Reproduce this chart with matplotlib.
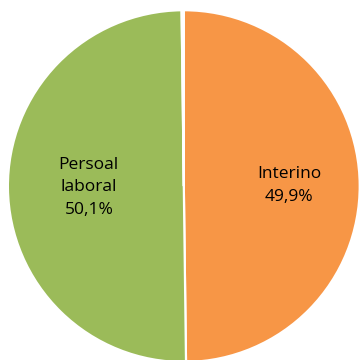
import numpy as np
import matplotlib
matplotlib.use("Agg")
import matplotlib.pyplot as plt

labels = ["Interino", "Persoal\nlaboral", "Outro"]
values = [49.9, 50.1, 0.2]
shown = [True, True, False]
colors = ["#F79646", "#9BBB59", "#4BACC6"]
label_r = [0.60, 0.54, 0.5]

fig = plt.figure(figsize=(3.59, 3.60), dpi=100)
ax = fig.add_axes([0.022, -0.006, 0.98, 0.978])
wedges, _ = ax.pie(values, colors=colors, startangle=90, counterclock=False,
                   wedgeprops=dict(edgecolor="white", linewidth=1.6))
ax.set_xlim(-1, 1); ax.set_ylim(-1, 1)
ax.set_aspect("equal")

for w, lab, v, s, r in zip(wedges, labels, values, shown, label_r):
    if not s:
        continue
    ang = np.deg2rad((w.theta1 + w.theta2) / 2)
    txt = f"{lab}\n{v:.1f}%".replace(".", ",")
    ax.text(r * np.cos(ang), r * np.sin(ang), txt, ha="center", va="center",
            fontsize=12.5, family="Open Sans", linespacing=1.55, color="black")

fig.savefig("out.png", dpi=100)
